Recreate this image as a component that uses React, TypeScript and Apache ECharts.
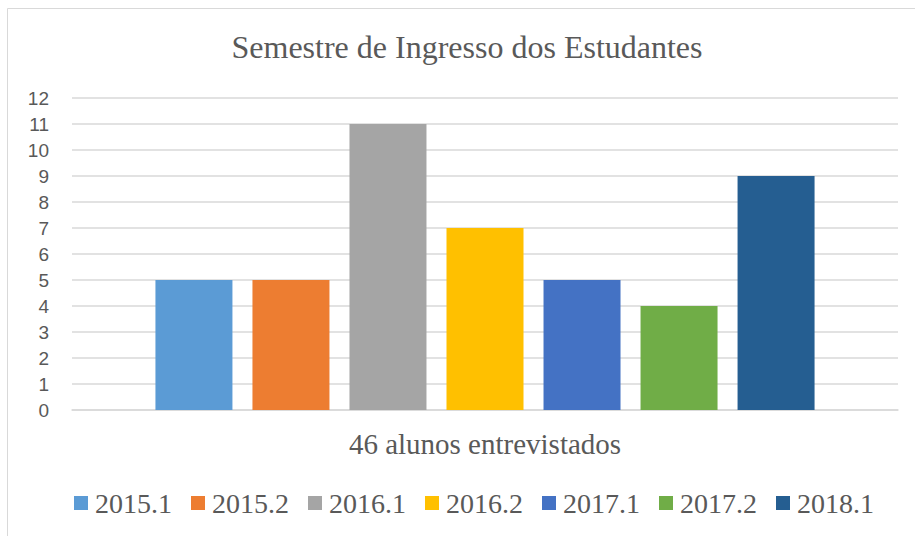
import React, { useEffect, useRef } from "react";
import * as echarts from "echarts";

const categories = ["46 alunos entrevistados"];
const seriesNames = ["2015.1", "2015.2", "2016.1", "2016.2", "2017.1", "2017.2", "2018.1"];
const seriesValues = [5, 5, 11, 7, 5, 4, 9];
const seriesColors = ["#5B9BD5", "#ED7D31", "#A5A5A5", "#FFC000", "#4472C4", "#70AD47", "#255E91"];
const titleText = "Semestre de Ingresso dos Estudantes";

export default function App() {
  const ref = useRef<HTMLDivElement>(null);
  useEffect(() => {
    document.body.style.margin = "0";
    const chart = echarts.init(ref.current!, null, { renderer: "svg" });
    const serif = "'Liberation Serif', 'Times New Roman', serif";
    chart.setOption({
      animation: false,
      backgroundColor: "#ffffff",
      title: {
        text: titleText,
        left: 462,
        top: 26,
        textAlign: "center",
        textStyle: { fontFamily: serif, fontSize: 32, fontWeight: "normal", color: "#595959" },
      },
      graphic: [
        {
          type: "rect",
          shape: { x: 7.5, y: 8.5, width: 920, height: 540 },
          style: { fill: "none", stroke: "#d9d9d9", lineWidth: 1 },
          silent: true,
        },
      ],
      legend: {
        bottom: 14,
        left: 69,
        icon: "rect",
        itemWidth: 14,
        itemHeight: 14,
        itemGap: 19,
        textStyle: { fontFamily: serif, fontSize: 28, color: "#595959", padding: [0, 0, 0, 2] },
        data: seriesNames,
      },
      grid: { left: 72, right: 17, top: 98, bottom: 126 },
      xAxis: {
        type: "category",
        data: categories,
        axisLine: { lineStyle: { color: "#d9d9d9", width: 1.5 } },
        axisTick: { show: false },
        axisLabel: { fontFamily: serif, fontSize: 29, color: "#595959", margin: 19 },
      },
      yAxis: {
        type: "value",
        min: 0,
        max: 12,
        interval: 1,
        axisLine: { show: false },
        axisTick: { show: false },
        splitLine: { lineStyle: { color: "#d9d9d9", width: 1.5 } },
        axisLabel: {
          fontFamily: "'Liberation Sans', Arial, sans-serif",
          fontSize: 19,
          color: "#595959",
          margin: 23,
        },
      },
      series: seriesNames.map((name, i) => ({
        name,
        type: "bar",
        data: [seriesValues[i]],
        barWidth: 77,
        barGap: "26%",
        itemStyle: { color: seriesColors[i] },
      })),
    });
    return () => chart.dispose();
  }, []);
  return <div ref={ref} style={{ width: 915, height: 536 }} />;
}
